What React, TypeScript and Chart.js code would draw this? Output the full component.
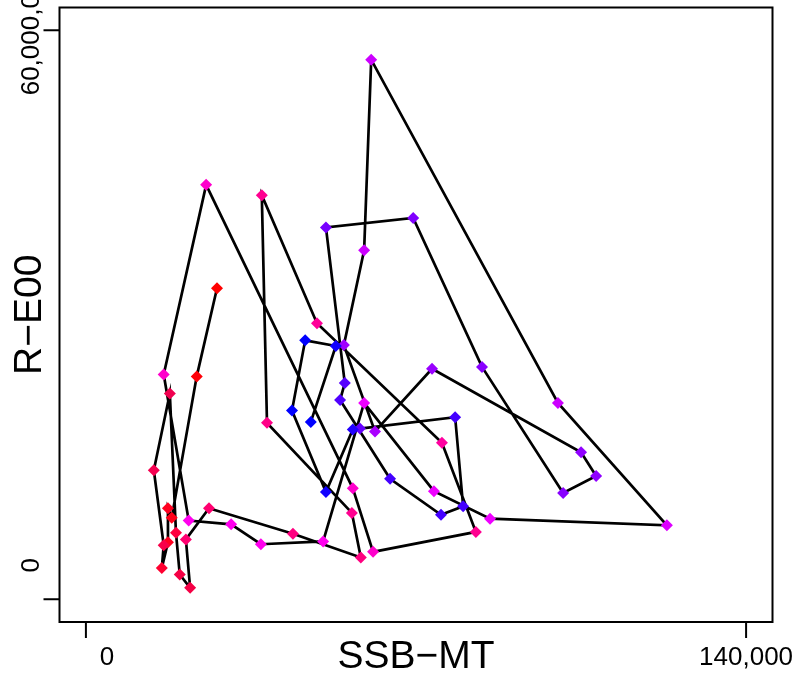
import React, { useEffect, useRef } from "react";
import { Chart, registerables } from "chart.js";

Chart.register(...registerables);

// SSB (MT) and recruitment, in path order
const ssb = [27800, 23500, 18200, 17400, 17400, 16100, 16500, 14400, 17800, 19100, 19900, 22100, 21200, 26100, 43900, 58300, 56400, 38400, 37300, 49000, 75500, 82700, 60900, 56600, 25500, 16500, 21800, 30800, 37100, 50300, 59000, 73800, 85700, 123200, 100100, 60500, 59000, 54700, 61300, 73400, 105000, 108200, 101200, 84000, 69400, 50900, 54900, 53900, 64500, 75300, 80000, 78300, 58100, 56600, 50900, 43700, 46500, 53000, 47700];
const rec = [32800, 23500, 8600, 9600, 6000, 3300, 5700, 13600, 21700, 7000, 2600, 1200, 6300, 9600, 6900, 4400, 9100, 18600, 42600, 29100, 16500, 7100, 5000, 11700, 43700, 23700, 8300, 7900, 5800, 6100, 20700, 11400, 8500, 7800, 20700, 56900, 36800, 26800, 17700, 24300, 15500, 13000, 11200, 24500, 40200, 39200, 22800, 21000, 12700, 8900, 9800, 19200, 18000, 17900, 11300, 19900, 27300, 26700, 18700];
const pointColors = ["#FF0000", "#FF0008", "#FF0018", "#FF0020", "#FF0020", "#FF0030", "#F80048", "#F50050", "#F00050", "#FF0040", "#F50045", "#F50045", "#FF0070", "#FF0070", "#FF0080", "#FF0080", "#FF0090", "#FF0088", "#FF0090", "#FF0099", "#FF00A0", "#FF0090", "#FF00CC", "#FF00CC", "#FF00CC", "#FF00CC", "#FF00EE", "#FF00EE", "#FF00EE", "#FF00EE", "#EE00FF", "#EE00FF", "#EE00FF", "#DD00FF", "#CC00FF", "#CC00FF", "#CC00FF", "#A000FF", "#AA00FF", "#9900FF", "#9000FF", "#9000FF", "#8800FF", "#8800FF", "#8000FF", "#7700FF", "#5500FF", "#5000FF", "#4400FF", "#4400FF", "#4400FF", "#4400FF", "#6600FF", "#2200FF", "#1100FF", "#0000FF", "#0000FF", "#1000FF", "#0000FF"];

const xTicks = [0, 140000];
const xTickLabels = ["0", "140,000"];
const yTicks = [0, 60000];
const yTickLabels = ["0", "60,000,000"];
const xTitle = "SSB\u2212MT";
const yTitle = "R\u2212E00";

const FONT = "'Liberation Sans', Arial, Helvetica, sans-serif";

const framePlugin = {
  id: "frame",
  afterDraw(chart: any) {
    const { ctx, chartArea } = chart;
    const xs = chart.scales.x;
    const ys = chart.scales.y;
    ctx.save();
    ctx.strokeStyle = "#000";
    ctx.lineWidth = 2;
    ctx.strokeRect(chartArea.left, chartArea.top, chartArea.right - chartArea.left, chartArea.bottom - chartArea.top);
    ctx.fillStyle = "#000";
    ctx.font = "26px " + FONT;
    xTicks.forEach((v, i) => {
      const px = xs.getPixelForValue(v);
      ctx.beginPath();
      ctx.moveTo(px, chartArea.bottom);
      ctx.lineTo(px, chartArea.bottom + 16);
      ctx.stroke();
      const shift = i === 0 ? 21 : 0;
      ctx.textAlign = "center";
      ctx.textBaseline = "alphabetic";
      ctx.fillText(xTickLabels[i], px + shift, chartArea.bottom + 43);
    });
    yTicks.forEach((v, i) => {
      const py = ys.getPixelForValue(v);
      ctx.beginPath();
      ctx.moveTo(chartArea.left, py);
      ctx.lineTo(chartArea.left - 16, py);
      ctx.stroke();
      const shift = i === 0 ? -34 : 0;
      ctx.save();
      ctx.translate(chartArea.left - 21, py + shift);
      ctx.rotate(-Math.PI / 2);
      ctx.textAlign = "center";
      ctx.textBaseline = "alphabetic";
      ctx.fillText(yTickLabels[i], 0, 0);
      ctx.restore();
    });
    ctx.font = "39px " + FONT;
    ctx.textAlign = "center";
    ctx.textBaseline = "alphabetic";
    ctx.fillText(xTitle, (chartArea.left + chartArea.right) / 2, chartArea.bottom + 46);
    ctx.save();
    ctx.translate(41, (chartArea.top + chartArea.bottom) / 2);
    ctx.rotate(-Math.PI / 2);
    ctx.fillText(yTitle, 0, 0);
    ctx.restore();
    ctx.restore();
  },
};

export default function App() {
  const ref = useRef<HTMLCanvasElement | null>(null);
  useEffect(() => {
    if (!ref.current) return;
    const data = ssb.map((x, i) => ({ x, y: rec[i] }));
    const chart = new Chart(ref.current, {
      type: "line",
      data: {
        datasets: [
          {
            data,
            borderColor: "#000",
            borderWidth: 2.7,
            tension: 0,
            pointStyle: "rectRot",
            pointRadius: 6,
            pointBorderWidth: 0,
            pointBackgroundColor: pointColors,
            pointBorderColor: pointColors,
            clip: false as any,
          },
        ],
      },
      options: {
        animation: false,
        responsive: false,
        devicePixelRatio: 1,
        layout: { padding: { left: 59.5, right: 23.5, top: 7.5, bottom: 51 } },
        plugins: { legend: { display: false }, tooltip: { enabled: false } },
        scales: {
          x: { type: "linear", display: false, min: -5600, max: 145600 },
          y: { type: "linear", display: false, min: -2400, max: 62400 },
        },
      },
      plugins: [framePlugin],
    });
    return () => chart.destroy();
  }, []);
  return (
    <div style={{ position: "absolute", left: 0, top: 0, width: 796, height: 673, background: "#fff" }}>
      <canvas ref={ref} width={796} height={673} style={{ display: "block" }} />
    </div>
  );
}
